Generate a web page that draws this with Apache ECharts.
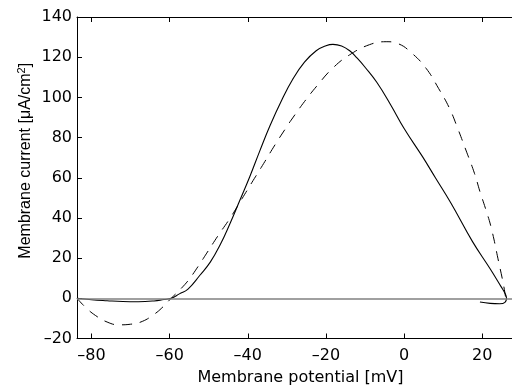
<!DOCTYPE html>
<html>
<head>
<meta charset="utf-8">
<script src="https://cdn.jsdelivr.net/npm/echarts@6/dist/echarts.min.js"></script>
<style>html,body{margin:0;padding:0;background:#fff}#c{width:512px;height:388px}</style>
</head>
<body>
<div id="c"></div>
<script>
// x ticks and y ticks
var xTicks = [-80, -60, -40, -20, 0, 20];
var xRange = [-83.7, 27.6];
var yRange = [-20, 140];
var yStep = 20;

// Solid curve: [membrane potential mV, membrane current]
var solidCurve = [
  [-83.7, 0], [-80, -0.7], [-76, -1.2], [-72, -1.6], [-68, -1.7], [-64, -1.3],
  [-61.5, -0.6], [-59.6, 0], [-57.5, 2.2], [-55.3, 4.6], [-52.2, 11.6],
  [-49.6, 18], [-47.1, 26.5], [-44.6, 37], [-42, 48.9], [-39.5, 60.5],
  [-36.9, 73.5], [-34.3, 86], [-31.3, 98.7], [-28.5, 109], [-25.5, 117.5],
  [-22.5, 123.2], [-20, 125.7], [-18.2, 126.4], [-16, 125.6], [-14, 123.3],
  [-12, 119.5], [-10, 115], [-7, 107.5], [-3.5, 96.5], [0, 84.5], [4.7, 70.5],
  [8, 60], [12, 47.3], [17.5, 28.2], [22, 14.7], [24.8, 5.8], [25.8, 2.5],
  [26.2, 0], [25.8, -2], [24.5, -2.7], [22, -2.5], [19.4, -1.8]
];

// Dashed curve
var dashedCurve = [
  [-83.7, 0], [-81.5, -4.5], [-79, -8.5], [-76, -11.8], [-73, -13.2],
  [-70, -12.9], [-67, -11.5], [-64, -8], [-62, -4.8], [-59.6, 0], [-57, 5],
  [-55, 9.5], [-52.5, 16.5], [-50.5, 22.5], [-47.5, 31.5], [-44.5, 40],
  [-41.5, 49.5], [-39, 57.5], [-36.6, 65], [-33, 76.5], [-30, 85.5],
  [-28.9, 88.7], [-25.5, 97.9], [-22.1, 106.2], [-18.3, 114.5], [-14, 121.1],
  [-8.9, 126.2], [-4.6, 127.7], [-1.5, 126.7], [1.8, 122.3], [5.6, 114.5],
  [8.8, 104.5], [11.6, 94.6], [13.7, 84.6], [15.8, 73.8], [18, 62.2],
  [19.4, 53.1], [20.8, 44.8], [22.3, 35], [24.2, 18], [25.4, 7], [26, 0]
];

var FONT = 'DejaVu Sans';
var YFONT = 'Liberation Sans';
function fmt(v) { return String(v).replace('-', '\u2013'); }

var chart = echarts.init(document.getElementById('c'), null, {renderer: 'canvas'});
chart.setOption({
  animation: false,
  backgroundColor: '#fff',
  grid: {left: 77, top: 17, right: 0, bottom: 49.5, containLabel: false, outerBoundsMode: 'none'},
  xAxis: [{
    type: 'value', min: xRange[0], max: xRange[1],
    name: 'Membrane potential [mV]', nameLocation: 'middle', nameGap: 31, nameMoveOverlap: false,
    nameTextStyle: {fontFamily: FONT, fontSize: 16, color: '#000', padding: [0, 0, 0, 12]},
    axisLine: {show: true, onZero: false, lineStyle: {color: '#000', width: 1}},
    axisTick: {show: true, inside: true, length: 5, customValues: xTicks, lineStyle: {color: '#000'}},
    axisLabel: {show: true, customValues: xTicks, margin: 9, fontFamily: FONT, fontSize: 16, color: '#000', formatter: fmt},
    splitLine: {show: false}
  }, {
    type: 'value', min: xRange[0], max: xRange[1], position: 'top',
    axisLine: {show: true, onZero: false, lineStyle: {color: '#000', width: 1}},
    axisTick: {show: true, inside: true, length: 5, customValues: xTicks, lineStyle: {color: '#000'}},
    axisLabel: {show: false},
    splitLine: {show: false}
  }],
  yAxis: {
    type: 'value', min: yRange[0], max: yRange[1], interval: yStep,
    name: 'Membrane current [\u03bcA/cm{sup|2}]', nameLocation: 'middle', nameGap: 41, nameMoveOverlap: false,
    nameTextStyle: {fontFamily: YFONT, fontSize: 16, color: '#000', lineHeight: 20, padding: [0, 0, 0, 34],
      rich: {sup: {fontFamily: YFONT, fontSize: 11, color: '#000', verticalAlign: 'top', lineHeight: 12}}},
    axisLine: {show: true, onZero: false, lineStyle: {color: '#000', width: 1}},
    axisTick: {show: true, inside: true, length: 5, lineStyle: {color: '#000'}},
    axisLabel: {margin: 5, fontFamily: FONT, fontSize: 16, color: '#000', formatter: fmt},
    splitLine: {show: false}
  },
  series: [{
    type: 'line', data: dashedCurve, symbol: 'none', smooth: 0.45,
    lineStyle: {color: '#000', width: 1, type: [10, 8]},
    markLine: {silent: true, symbol: 'none', label: {show: false},
      lineStyle: {color: '#808080', width: 1.5, type: 'solid'}, data: [{yAxis: 0}]}
  }, {
    type: 'line', data: solidCurve, symbol: 'none', smooth: 0.45,
    lineStyle: {color: '#000', width: 1.1, type: 'solid'}
  }]
});
</script>
</body>
</html>
